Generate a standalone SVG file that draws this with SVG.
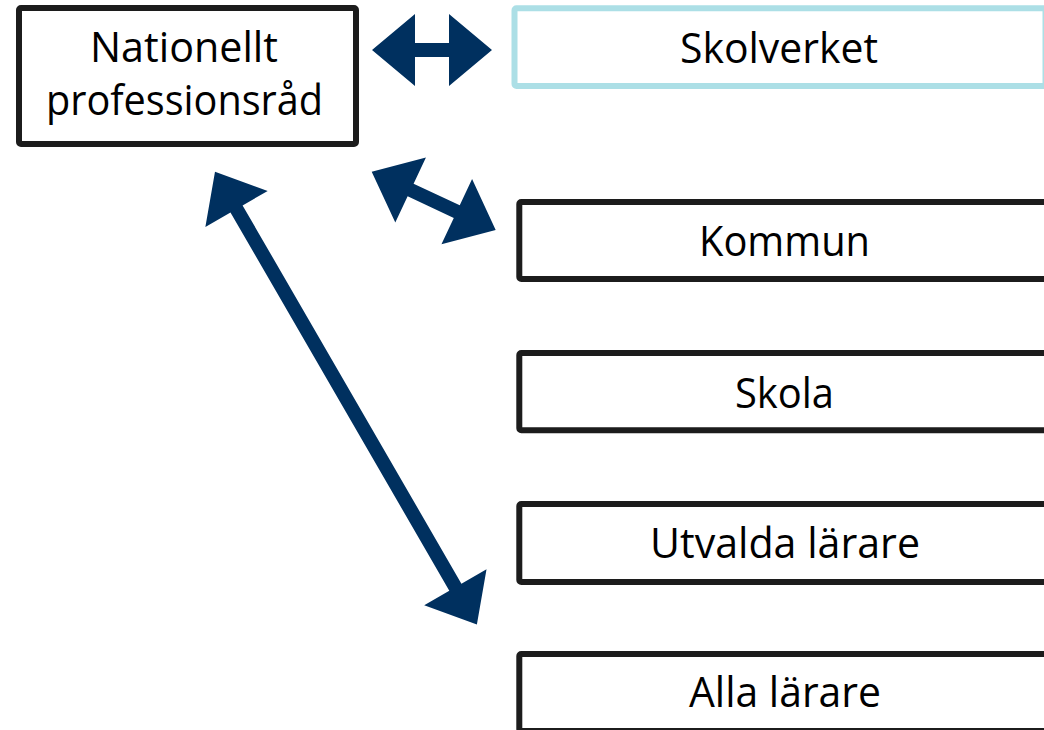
<svg xmlns="http://www.w3.org/2000/svg" width="1044" height="730" viewBox="0 0 1044 730">
  <style>
    .box { fill: #ffffff; stroke: #1c1c1c; stroke-width: 6; }
    .box-blue { fill: #ffffff; stroke: #acdfe6; stroke-width: 6; }
    .lbl { font-family: "Open Sans", "Liberation Sans", sans-serif; font-size: 42px; fill: #000000; }
    .arrow { fill: #00305f; stroke: none; }
  </style>
  <rect width="1044" height="730" fill="#ffffff"/>

  <g id="node-nationellt">
    <rect class="box" x="19" y="8" width="337" height="136" rx="2"/>
    <text class="lbl" x="90" y="62" textLength="188" lengthAdjust="spacingAndGlyphs">Nationellt</text>
    <text class="lbl" x="46" y="115" textLength="277" lengthAdjust="spacingAndGlyphs">professionsråd</text>
  </g>

  <g id="node-skolverket">
    <rect class="box-blue" x="514.5" y="8.3" width="531" height="77.7" rx="2"/>
    <text class="lbl" x="680" y="63" textLength="198" lengthAdjust="spacingAndGlyphs">Skolverket</text>
  </g>

  <g id="node-kommun">
    <rect class="box" x="519.3" y="202" width="530" height="77" rx="2"/>
    <text class="lbl" x="699" y="256" textLength="171" lengthAdjust="spacingAndGlyphs">Kommun</text>
  </g>

  <g id="node-skola">
    <rect class="box" x="519.3" y="353" width="530" height="77.3" rx="2"/>
    <text class="lbl" x="735" y="408" textLength="99" lengthAdjust="spacingAndGlyphs">Skola</text>
  </g>

  <g id="node-utvalda">
    <rect class="box" x="519.3" y="504" width="530" height="78" rx="2"/>
    <text class="lbl" x="650" y="558" textLength="270" lengthAdjust="spacingAndGlyphs">Utvalda lärare</text>
  </g>

  <g id="node-alla">
    <rect class="box" x="519.3" y="654" width="530" height="77" rx="2"/>
    <text class="lbl" x="689" y="706.5" textLength="192" lengthAdjust="spacingAndGlyphs">Alla lärare</text>
  </g>

  <g id="connectors">
    <polygon class="arrow" points="372,50 415,14 415,43 449,43 449,14 492,50 449,86 449,57 415,57 415,86"/>
    <polygon class="arrow" transform="translate(371.7,171.7) rotate(25.18)" points="0,0 43,-36 43,-7 94,-7 94,-36 137,0 94,36 94,7 43,7 43,36"/>
    <polygon class="arrow" transform="translate(215,171.7) rotate(59.95)" points="0,0 43,-36 43,-7 480,-7 480,-36 523,0 480,36 480,7 43,7 43,36"/>
  </g>
</svg>
